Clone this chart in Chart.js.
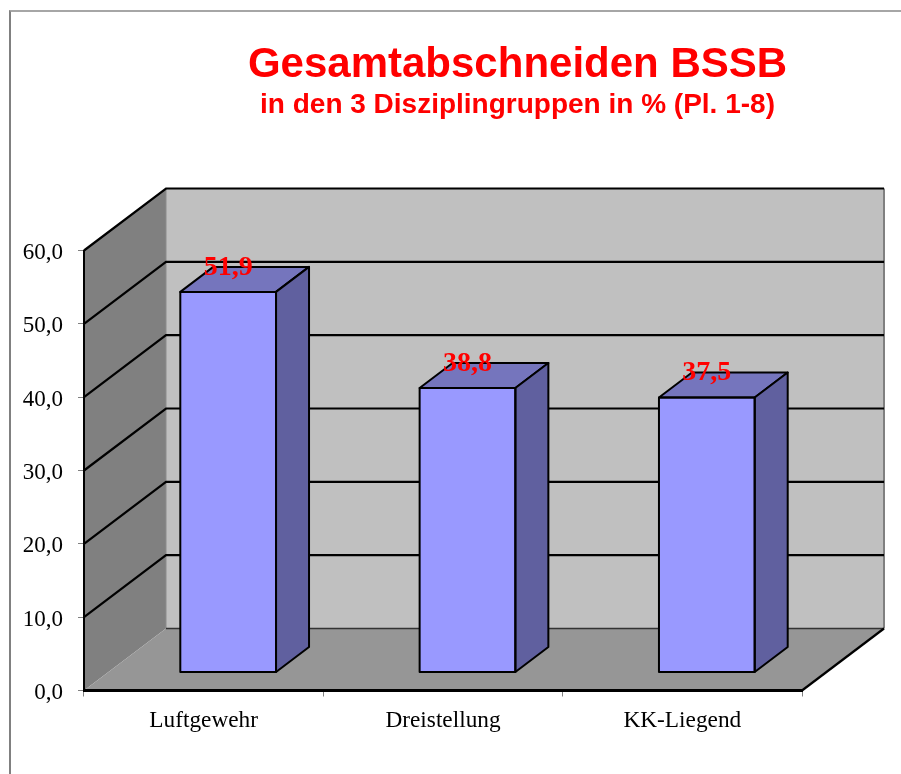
<!DOCTYPE html>
<html>
<head>
<meta charset="utf-8">
<title>Gesamtabschneiden BSSB</title>
<script src="https://cdn.jsdelivr.net/npm/chart.js@4"></script>
<style>
html,body{margin:0;padding:0;background:#fff;overflow:hidden}
#frame{position:absolute;left:9px;top:10px;right:0;bottom:0;border-left:2px solid #808080;border-top:2px solid #a6a6a6}
#chartBSSB{position:absolute;left:0;top:0}
</style>
</head>
<body>
<div id="frame"></div>
<canvas id="chartBSSB" width="901" height="774"></canvas>
<script>
const categories=['Luftgewehr','Dreistellung','KK-Liegend']
const values=[51.9,38.8,37.5]
const titleText='Gesamtabschneiden BSSB'
const subtitleText='in den 3 Disziplingruppen in % (Pl. 1-8)'

// depth of the fake 3d box and of the bars, pixels
const boxDX=82, boxDY=-62
const barShiftX=24.5, barShiftY=-18
const barDX=33, barDY=-25

const fmt=v=>v.toFixed(1).replace('.',',')

function poly(ctx,pts,fill,stroke,lw){
 ctx.beginPath()
 pts.forEach((p,i)=>i?ctx.lineTo(p[0],p[1]):ctx.moveTo(p[0],p[1]))
 ctx.closePath()
 if(fill){ctx.fillStyle=fill;ctx.fill()}
 if(stroke){ctx.strokeStyle=stroke;ctx.lineWidth=lw;ctx.stroke()}
}
function line(ctx,pts,color,lw){
 ctx.beginPath()
 pts.forEach((p,i)=>i?ctx.lineTo(p[0],p[1]):ctx.moveTo(p[0],p[1]))
 ctx.strokeStyle=color;ctx.lineWidth=lw;ctx.stroke()
}

const wallsPlugin={
 id:'walls',
 // title and subtitle sit right of the canvas centre
 afterLayout(chart){
  chart.boxes.forEach(b=>{
   if(b.options&&b.options.text){b.left=134;b.right=901}
  })
 },
 beforeDraw(chart){
  const ctx=chart.ctx,a=chart.chartArea,y=chart.scales.y
  const l=a.left,r=a.right,t=a.top,b=a.bottom
  ctx.save()
  poly(ctx,[[l+boxDX,t+boxDY],[r+boxDX,t+boxDY],[r+boxDX,b+boxDY],[l+boxDX,b+boxDY]],'#c0c0c0')
  poly(ctx,[[l,t],[l+boxDX,t+boxDY],[l+boxDX,b+boxDY],[l,b]],'#808080')
  poly(ctx,[[l,b],[l+boxDX,b+boxDY],[r+boxDX,b+boxDY],[r,b]],'#969696')
  line(ctx,[[l+boxDX,t+boxDY],[l+boxDX,b+boxDY]],'#8c8c8c',1)
  line(ctx,[[r+boxDX,t+boxDY],[r+boxDX,b+boxDY]],'#808080',2)
  line(ctx,[[l+boxDX,b+boxDY],[r+boxDX,b+boxDY]],'#333333',1.5)
  y.ticks.forEach(tk=>{
   if(tk.value===0)return
   const py=y.getPixelForValue(tk.value)
   line(ctx,[[l,py],[l+boxDX,py+boxDY],[r+boxDX,py+boxDY]],'#000000',2.2)
  })
  line(ctx,[[r,b],[r+boxDX,b+boxDY]],'#000000',2.2)
  ctx.restore()
 },
 beforeDatasetsDraw(chart){
  chart.ctx.save()
  chart.ctx.translate(barShiftX,barShiftY)
 },
 afterDatasetsDraw(chart){
  const ctx=chart.ctx
  chart.getDatasetMeta(0).data.forEach((bar,i)=>{
   const x0=bar.x-bar.width/2,x1=bar.x+bar.width/2,top=bar.y,base=bar.base
   ctx.lineJoin='round'
   poly(ctx,[[x0,top],[x0+barDX,top+barDY],[x1+barDX,top+barDY],[x1,top]],'#7575bd','#000000',2)
   poly(ctx,[[x1,top],[x1+barDX,top+barDY],[x1+barDX,base+barDY],[x1,base]],'#60609f','#000000',2)
   poly(ctx,[[x0,top],[x1,top],[x1,base],[x0,base]],null,'#000000',2)
   ctx.fillStyle='#ff0000'
   ctx.font='bold 28px "Liberation Serif"'
   ctx.textAlign='center'
   ctx.textBaseline='middle'
   ctx.fillText(fmt(values[i]),bar.x,top-24.5)
  })
  ctx.restore()
 }
}

new Chart(document.getElementById('chartBSSB'),{
 type:'bar',
 plugins:[wallsPlugin],
 data:{
  labels:categories,
  datasets:[{
   data:values,
   backgroundColor:'#9999ff',
   borderWidth:0,
   barPercentage:0.4,
   categoryPercentage:1
  }]
 },
 options:{
  responsive:false,
  animation:false,
  layout:{padding:{left:10,right:99,top:0,bottom:33.5}},
  plugins:{
   legend:{display:false},
   tooltip:{enabled:false},
   title:{display:true,text:titleText,color:'#ff0000',
    font:{family:'"Liberation Sans"',size:42,weight:'bold',lineHeight:1.1},
    padding:{top:42.5,bottom:0}},
   subtitle:{display:true,text:subtitleText,color:'#ff0000',
    font:{family:'"Liberation Sans"',size:28,weight:'bold',lineHeight:1.1},
    padding:{top:0.9,bottom:130.1}}
  },
  scales:{
   x:{
    afterFit:s=>{s.height=50},
    grid:{offset:true,drawOnChartArea:false,tickLength:6,color:'#808080'},
    border:{color:'#000000',width:3},
    ticks:{color:'#000000',padding:10,maxRotation:0,font:{family:'"Liberation Serif"',size:23.3}}
   },
   y:{
    min:0,max:60,
    afterFit:s=>{s.width=74},
    grid:{drawOnChartArea:false,tickLength:6,color:'#808080'},
    border:{color:'#000000',width:2},
    ticks:{stepSize:10,color:'#000000',padding:15,labelOffset:2.5,callback:v=>fmt(v),font:{family:'"Liberation Serif"',size:23}}
   }
  }
 }
})
</script>
</body>
</html>
